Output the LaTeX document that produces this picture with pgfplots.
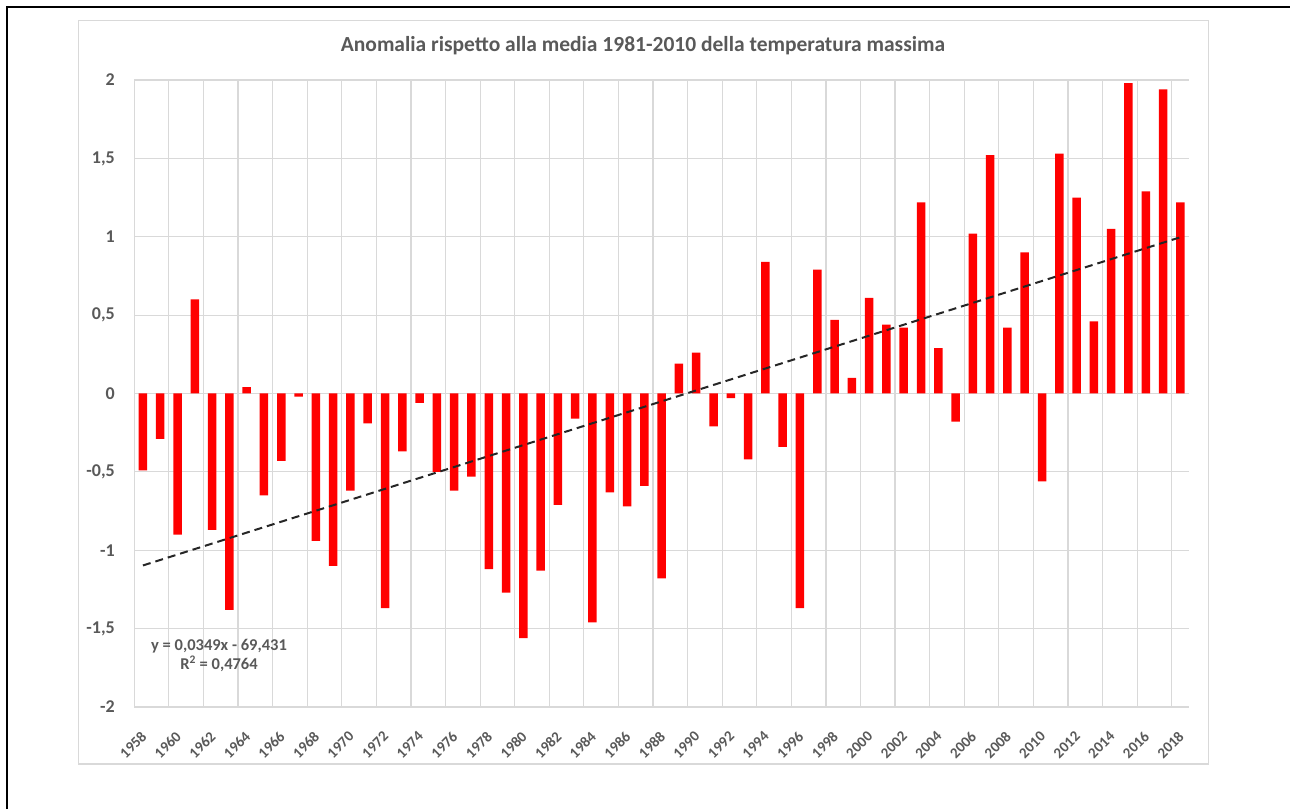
\documentclass[border=0pt]{standalone}
\usepackage{fontspec}
\setmainfont{Carlito}
\usepackage{pgfplots}
\pgfplotsset{compat=1.18}
\usepackage{pgfplotstable}
\definecolor{gridgray}{HTML}{D9D9D9}
\definecolor{txtgray}{HTML}{595959}
\definecolor{barred}{HTML}{FF0000}

\pgfplotstableread{
year val
1958 -0.49
1959 -0.29
1960 -0.90
1961 0.60
1962 -0.87
1963 -1.38
1964 0.04
1965 -0.65
1966 -0.43
1967 -0.02
1968 -0.94
1969 -1.10
1970 -0.62
1971 -0.19
1972 -1.37
1973 -0.37
1974 -0.06
1975 -0.50
1976 -0.62
1977 -0.53
1978 -1.12
1979 -1.27
1980 -1.56
1981 -1.13
1982 -0.71
1983 -0.16
1984 -1.46
1985 -0.63
1986 -0.72
1987 -0.59
1988 -1.18
1989 0.19
1990 0.26
1991 -0.21
1992 -0.03
1993 -0.42
1994 0.84
1995 -0.34
1996 -1.37
1997 0.79
1998 0.47
1999 0.10
2000 0.61
2001 0.44
2002 0.42
2003 1.22
2004 0.29
2005 -0.18
2006 1.02
2007 1.52
2008 0.42
2009 0.90
2010 -0.56
2011 1.53
2012 1.25
2013 0.46
2014 1.05
2015 1.98
2016 1.29
2017 1.94
2018 1.22
}\datatable

\begin{document}
\begin{tikzpicture}[x=1pt,y=1pt]
\path[use as bounding box] (0,0) rectangle (1290,809);
% outer black border
\draw[line width=2.5pt, black] (7,0) -- (7,802) -- (1290,802);
% chart frame
\draw[line width=1.5pt, gridgray] (78.7,45) rectangle (1208.7,788.3);
% title
\node[font=\fontsize{21.5}{25}\selectfont\bfseries, text=txtgray] at (643,763) {Anomalia rispetto alla media 1981-2010 della temperatura massima};
\begin{axis}[
  at={(134.3pt,102pt)}, anchor=south west,
  scale only axis, width=1054.7pt, height=627pt,
  xmin=1957.5, xmax=2018.5,
  ymin=-2, ymax=2,
  ytick={-2,-1.5,...,2},
  yticklabels={-2,{-1,5},-1,{-0,5},0,{0,5},1,{1,5},2},
  xtick={1958,1960,...,2018},
  extra x ticks={1957.5,1959.5,...,2017.5},
  extra x tick labels={},
  extra x tick style={xmajorgrids=true, major grid style={draw=gridgray, line width=1.2pt}},
  ymajorgrids,
  major grid style={draw=gridgray, line width=1.2pt},
  major tick length=0pt, minor tick length=0pt,
  axis line style={draw=none},
  tick label style={text=txtgray},
  yticklabel style={font=\fontsize{18}{21}\selectfont\bfseries, xshift=-16pt},
  xticklabel style={font=\fontsize{15}{17}\selectfont\bfseries, xshift=1pt, yshift=-27pt, rotate=45, anchor=east, inner sep=0pt,
    /pgf/number format/.cd, 1000 sep={}, assume math mode=true},
  clip=false,
]
\addplot[ybar, bar width=8.5pt, bar shift=0pt, fill=barred, draw=none] table[x=year, y=val] {\datatable};
\addplot[black!85, line width=2pt, dash pattern=on 8pt off 5pt] coordinates {(1958,-1.097) (2018,0.997)};
\node[font=\fontsize{16.5}{19.5}\selectfont\bfseries, text=txtgray, align=center] at (axis cs:1962.4,-1.67) {y = 0,0349x - 69,431\\R\textsuperscript{2} = 0,4764};
\end{axis}
\end{tikzpicture}
\end{document}
